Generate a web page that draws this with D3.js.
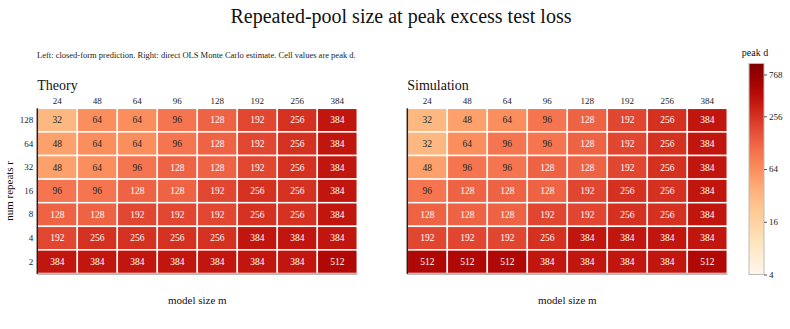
<!DOCTYPE html>
<html>
<head>
<meta charset="utf-8">
<script src="https://cdn.jsdelivr.net/npm/d3@7/dist/d3.min.js"></script>
<style>
  body { margin: 0; background: #fff; }
  svg text { font-family: "Liberation Serif", "DejaVu Serif", serif !important; }
</style>
</head>
<body>
<svg id="chart" width="790" height="329"></svg>
<script>
// model sizes (columns) and repeat counts (rows, top to bottom)
var modelSizes = [24, 48, 64, 96, 128, 192, 256, 384];
var repeats = [128, 64, 32, 16, 8, 4, 2];

// peak d, one row per repeat count
var theory = [
  [32, 64, 64, 96, 128, 192, 256, 384],
  [48, 64, 64, 96, 128, 192, 256, 384],
  [48, 64, 96, 128, 128, 192, 256, 384],
  [96, 96, 128, 128, 192, 256, 256, 384],
  [128, 128, 192, 192, 192, 256, 256, 384],
  [192, 256, 256, 256, 256, 384, 384, 384],
  [384, 384, 384, 384, 384, 384, 384, 512]
];
var simulation = [
  [32, 48, 64, 96, 128, 192, 256, 384],
  [32, 64, 96, 96, 128, 192, 256, 384],
  [48, 96, 96, 128, 128, 192, 256, 384],
  [96, 128, 128, 128, 192, 256, 256, 384],
  [128, 128, 128, 192, 192, 256, 256, 384],
  [192, 192, 192, 256, 384, 384, 384, 384],
  [512, 512, 512, 384, 384, 384, 384, 512]
];
var colorbarTicks = [4, 16, 64, 256, 768];
var colorDomain = [4, 1024];

var svg = d3.select("#chart");

var logScale = d3.scaleLog().domain(colorDomain).range([0, 1]);
function cellColor(v) {
  return d3.interpolateOrRd(logScale(v));
}

// title + subtitle
svg.append("text")
  .attr("x", 401).attr("y", 23)
  .attr("text-anchor", "middle")
  .style("font-size", "20px")
  .attr("fill", "#111")
  .text("Repeated-pool size at peak excess test loss");

svg.append("text")
  .attr("x", 37).attr("y", 58)
  .style("font-size", "8.5px")
  .attr("fill", "#222")
  .text("Left: closed-form prediction. Right: direct OLS Monte Carlo estimate. Cell values are peak d.");

var gridTop = 108.3, gridBottom = 273.5;

/**
 * drawPanel draws one heatmap panel
 */
function drawPanel(left, title, data, showYAxis) {
  var x = d3.scaleBand().domain(modelSizes).range([left, left + 320]);
  var y = d3.scaleBand().domain(repeats).range([gridTop, gridBottom]);
  var g = svg.append("g");

  g.append("text")
    .attr("x", left).attr("y", 90)
    .style("font-size", "14px")
    .attr("fill", "#111")
    .text(title);

  var cells = [];
  data.forEach(function(row, i) {
    row.forEach(function(v, j) {
      cells.push({ r: repeats[i], m: modelSizes[j], v: v });
    });
  });

  g.selectAll("rect.cell").data(cells).enter().append("rect")
    .attr("class", "cell")
    .attr("x", function(d) { return x(d.m); })
    .attr("y", function(d) { return y(d.r); })
    .attr("width", x.bandwidth())
    .attr("height", y.bandwidth())
    .attr("fill", function(d) { return cellColor(d.v); })
    .attr("stroke", "#fff")
    .attr("stroke-width", 1.5);

  g.selectAll("text.val").data(cells).enter().append("text")
    .attr("class", "val")
    .attr("x", function(d) { return x(d.m) + x.bandwidth() / 2; })
    .attr("y", function(d) { return y(d.r) + y.bandwidth() / 2; })
    .attr("dy", "0.35em")
    .attr("text-anchor", "middle")
    .style("font-size", "9.5px")
    .attr("fill", function(d) { return d3.lab(cellColor(d.v)).l > 62 ? "#262626" : "#fff"; })
    .text(function(d) { return d.v; });

  // column labels on top
  var xAxis = g.append("g")
    .attr("transform", "translate(0," + (gridTop - 4) + ")")
    .call(d3.axisTop(x).tickSize(0).tickPadding(0));
  xAxis.select(".domain").remove();
  xAxis.selectAll("text").style("font-size", "9px").attr("fill", "#222");

  if (showYAxis) {
    var yAxis = g.append("g")
      .attr("transform", "translate(" + (left - 3) + ",0)")
      .call(d3.axisLeft(y).tickSize(0).tickPadding(1));
    yAxis.select(".domain").remove();
    yAxis.selectAll("text").style("font-size", "9px").attr("fill", "#222");

    g.append("text")
      .attr("transform", "translate(13," + ((gridTop + gridBottom) / 2) + ") rotate(-90)")
      .attr("text-anchor", "middle")
      .style("font-size", "11px")
      .attr("fill", "#111")
      .text("num repeats r");
  }

  // spines
  g.append("line")
    .attr("x1", left).attr("x2", left)
    .attr("y1", gridTop).attr("y2", gridBottom + 0.5)
    .attr("stroke", "#222").attr("stroke-width", 1.5);
  g.append("line")
    .attr("x1", left).attr("x2", left + 320)
    .attr("y1", gridBottom + 0.5).attr("y2", gridBottom + 0.5)
    .attr("stroke", "#777").attr("stroke-width", 1);

  g.append("text")
    .attr("x", left + 160).attr("y", 304)
    .attr("text-anchor", "middle")
    .style("font-size", "11px")
    .attr("fill", "#111")
    .text("model size m");
}

drawPanel(37.3, "Theory", theory, true);
drawPanel(407.3, "Simulation", simulation, false);

// colorbar
var cbX = 749, cbW = 15, cbTop = 63.5, cbBottom = 274.5;
var cbScale = d3.scaleLog().domain(colorDomain).range([cbBottom, cbTop]);

var grad = svg.append("defs").append("linearGradient")
  .attr("id", "cbgrad")
  .attr("x1", 0).attr("y1", 1).attr("x2", 0).attr("y2", 0);
d3.range(0, 1.0001, 0.05).forEach(function(t) {
  grad.append("stop")
    .attr("offset", t)
    .attr("stop-color", d3.interpolateOrRd(t));
});

svg.append("rect")
  .attr("x", cbX).attr("y", cbTop)
  .attr("width", cbW).attr("height", cbBottom - cbTop)
  .attr("fill", "url(#cbgrad)")
  .attr("stroke", "#bbb").attr("stroke-width", 1);

var cbAxis = svg.append("g")
  .attr("transform", "translate(" + (cbX + cbW) + ",0)")
  .call(d3.axisRight(cbScale).tickValues(colorbarTicks).tickFormat(d3.format("d")).tickSize(3).tickPadding(2));
cbAxis.select(".domain").remove();
cbAxis.selectAll("line").attr("stroke", "#555");
cbAxis.selectAll("text").style("font-size", "9px").attr("fill", "#222");

svg.append("text")
  .attr("x", 755).attr("y", 56)
  .attr("text-anchor", "middle")
  .style("font-size", "10px")
  .attr("fill", "#111")
  .text("peak d");
</script>
</body>
</html>
